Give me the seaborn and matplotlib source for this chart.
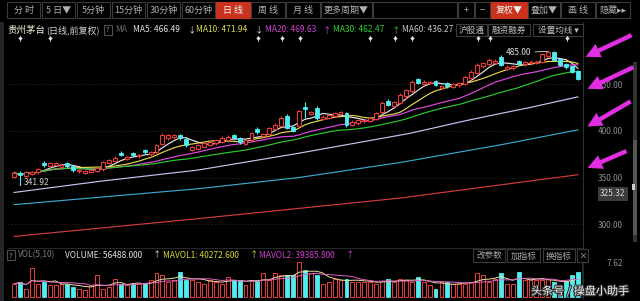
import numpy as np
import pandas as pd
import matplotlib
matplotlib.use('Agg')
import matplotlib.pyplot as plt
import matplotlib.patheffects as pe
from matplotlib.patches import Rectangle, FancyArrowPatch
import seaborn as sns

# ---------------- data ----------------
opens = [351, 355, 352, 354, 355.5, 366, 362, 363.5, 361, 365,
         362, 356.5, 355, 356, 357, 359, 365.5, 368, 376.5, 370,
         376, 372.5, 379.5, 375, 377, 386, 392, 393, 395, 391,
         379.5, 381, 383, 385, 386.5, 388, 390, 395.5, 392, 386,
         390, 402, 394.5, 397, 402, 405, 416, 404, 405, 425.5,
         418, 424.5, 413, 414, 416, 418, 419, 406.5, 408, 410,
         410.5, 413, 420, 432, 427, 430, 437, 442, 455, 450,
         451, 453, 446, 451, 447, 448.5, 450.5, 456, 462, 469,
         471, 472.5, 479, 466.5, 467, 474.5, 471, 472, 472.5, 474,
         480, 484.5, 477, 471, 469, 463.5]
closes = [354.8, 352.6, 355.8, 355.8, 359.1, 363.3, 365.5, 365.5, 363.3, 362.3,
          358.0, 358.0, 356.9, 358.0, 360.1, 366.5, 368.7, 370.8, 374.0, 371.9,
          374.0, 374.0, 377.2, 377.2, 384.7, 396, 395, 395, 392, 384.7,
          382.5, 384.7, 386.9, 387.9, 390.1, 392.2, 393.3, 392, 387.9, 390.1,
          397.6, 398.5, 396.5, 402.9, 406.1, 413.6, 403, 400, 421, 423.5,
          420, 413.6, 414.7, 416.8, 419, 420, 406, 409.3, 411.5, 411.5,
          413.6, 419, 430, 428, 430.5, 438.2, 443.6, 452.1, 451, 452.5,
          452.1, 448.9, 447.5, 447.5, 449.5, 451.1, 457.5, 462.8, 470.3, 472.5,
          475.7, 474.5, 470.5, 468.2, 469, 471.5, 473, 474, 474, 482,
          483.9, 476, 470, 468, 463, 455.5]
highs = [356.5, 357, 357, 357.5, 360.5, 367.5, 367, 367, 365, 366.5,
         363, 359.5, 358.5, 359.5, 361.5, 368, 370, 372.5, 378, 373.5,
         377.5, 375.5, 381, 378.5, 386, 398, 397, 396.5, 396.5, 392.5,
         384, 386, 388.5, 389.5, 391.5, 394, 395, 397, 393, 391.5,
         399, 403.5, 398, 404.5, 408, 415.5, 417.5, 405.5, 422.5, 431,
         421.5, 426, 416.5, 418, 420.5, 421.5, 420.5, 411, 413, 413,
         415, 420.5, 432, 433.5, 432, 440, 445, 454, 456.5, 454,
         453.5, 454.5, 449, 452.5, 451, 452.5, 459, 464.5, 472, 474,
         477.5, 476.5, 480.5, 470, 470.5, 476, 475, 476, 476, 483.5,
         485.0, 484.8, 478, 472.5, 470.5, 465]
lows = [349.5, 341.92, 350.5, 352.5, 354, 361.5, 360.5, 362, 359.5, 360.5,
        356, 355, 353.5, 354.5, 355.5, 357.5, 364, 366.5, 372.5, 368.5,
        372.5, 371, 375.5, 373.5, 375.5, 384.5, 390.5, 391.5, 390.5, 383,
        378, 379.5, 381.5, 383.5, 385, 386.5, 388.5, 390.5, 386, 384.5,
        388.5, 397, 393, 395.5, 400.5, 403.5, 401.5, 398.5, 403.5, 414,
        416.5, 412, 411.5, 412.5, 414.5, 416.5, 404.5, 405, 406.5, 408.5,
        409, 411.5, 418.5, 426.5, 425.5, 428.5, 435.5, 440.5, 449.5, 448.5,
        449.5, 447.5, 444.5, 446, 445.5, 447, 449, 454.5, 460.5, 467.5,
        469.5, 471, 469, 465, 465.5, 470, 469.5, 470.5, 471, 472.5,
        478.5, 475, 469, 466.5, 461.5, 454]
# volume in units of 10,000 lots
volumes = [3.0, 3.4, 1.9, 6.4, 3.0, 3.4, 2.6, 2.6, 3.0, 3.0,
           2.3, 1.9, 1.5, 2.6, 4.9, 1.9, 2.3, 4.1, 3.0, 2.6,
           3.0, 3.0, 3.0, 3.8, 5.3, 4.9, 3.4, 3.8, 5.6, 3.8,
           3.8, 3.4, 3.0, 3.8, 3.4, 3.0, 4.5, 3.8, 3.8, 2.6,
           3.8, 3.8, 5.3, 3.8, 5.3, 4.9, 4.9, 4.9, 7.8, 6.0,
           5.3, 4.9, 3.0, 3.4, 4.1, 3.8, 4.1, 3.4, 3.4, 3.4,
           3.4, 3.0, 3.6, 4.1, 3.4, 4.1, 3.8, 3.4, 4.5, 3.4,
           2.6, 1.9, 3.4, 3.4, 3.0, 3.0, 3.0, 3.4, 5.3, 4.9,
           3.4, 4.1, 5.3, 3.0, 3.0, 5.6, 3.8, 3.8, 3.8, 3.85,
           4.0, 3.4, 2.6, 3.5, 5.0, 5.6488]

ma60_idx = [0, 14.5, 31, 48, 66.5, 77, 87, 95]
ma60_val = [334, 346, 358, 376, 397, 412, 425, 436.27]
ma120_idx = [0, 31, 48, 65, 82, 95]
ma120_val = [321, 338, 350, 366, 385, 401]
ma250_idx = [0, 31, 65, 95]
ma250_val = [287, 306, 328, 353]

price_ticks = [300.00, 350.00, 400.00, 450.00]
cursor_price = '325.32'
vol_tick = 7.62
high_label = 485.00
low_label = 341.92

ma_header = [('MA5: 466.49', '↓'), ('MA10: 471.94', '↓'), ('MA20: 469.63', '↑'),
             ('MA30: 462.47', '↑'), ('MA60: 436.27', '')]
vol_header = [('VOLUME: 56488.000', '↑'), ('MAVOL1: 40272.600', '↑'), ('MAVOL2: 39385.800', '↑')]
toolbar = ['分 时', '5 日▼', '5分钟', '15分钟', '30分钟', '60分钟', '日 线', '周 线', '月 线',
           '更多周期▼', '', '+', '−', '复权▼', '叠加▼', '画 线', '隐藏▸▸']

# ---------------- style ----------------
sns.set_theme(style='dark', rc={'axes.facecolor': 'black', 'figure.facecolor': 'black',
                                'savefig.facecolor': 'black'})
plt.rcParams['font.family'] = ['Noto Sans CJK SC', 'DejaVu Sans']
plt.rcParams['axes.unicode_minus'] = False

UP = '#e83c3c'
DOWN = '#50ecf0'
W, H = 640, 301
fig = plt.figure(figsize=(6.4, 3.01), dpi=100)

def fr(x0, y0, x1, y1):
    return [x0 / W, 1 - y1 / H, (x1 - x0) / W, (y1 - y0) / H]

n = len(closes)
idx = np.arange(n)
o = np.array(opens); c = np.array(closes); h = np.array(highs); l = np.array(lows)
up = c >= o

# ---------------- price panel ----------------
ax = fig.add_axes(fr(8, 22, 583, 250))
ax.set_facecolor('black')
for t in price_ticks:
    ax.axhline(t, color='#4a3434', lw=0.6, ls=(0, (1, 3)), zorder=0)

# moving averages
s = pd.Series(c)
frames = []
for name, win in [('MA5', 5), ('MA10', 10), ('MA20', 20), ('MA30', 30)]:
    frames.append(pd.DataFrame({'idx': idx, 'value': s.rolling(win, min_periods=1).mean(), 'line': name}))
frames.append(pd.DataFrame({'idx': ma60_idx, 'value': ma60_val, 'line': 'MA60'}))
frames.append(pd.DataFrame({'idx': ma120_idx, 'value': ma120_val, 'line': 'MA120'}))
frames.append(pd.DataFrame({'idx': ma250_idx, 'value': ma250_val, 'line': 'MA250'}))
ma_df = pd.concat(frames, ignore_index=True)
palette = {'MA5': '#e8e8e8', 'MA10': '#e6d84a', 'MA20': '#e048e0', 'MA30': '#2ec82e',
           'MA60': '#c4c4f4', 'MA120': '#3aa8cc', 'MA250': '#d23c3c'}
sns.lineplot(data=ma_df, x='idx', y='value', hue='line', palette=palette, legend=False,
             estimator=None, sort=False, linewidth=0.85, ax=ax, zorder=2)

# candles
cw = 0.66
ax.vlines(idx[up], l[up], h[up], color=UP, lw=0.8, zorder=3)
ax.vlines(idx[~up], l[~up], h[~up], color=DOWN, lw=0.8, zorder=3)
body_lo = np.minimum(o, c)
body_h = np.maximum(np.abs(c - o), 0.4)
ax.bar(idx[up], body_h[up], bottom=body_lo[up], width=cw, facecolor='black',
       edgecolor=UP, linewidth=0.8, zorder=4)
ax.bar(idx[~up], body_h[~up], bottom=body_lo[~up], width=cw, facecolor=DOWN,
       edgecolor=DOWN, linewidth=0.6, zorder=4)

# extreme labels
hi_i = int(np.argmax(h)); lo_i = int(np.argmin(l))
ax.annotate(f'{high_label:.2f}', xy=(hi_i, high_label), xytext=(-12, -1), textcoords='offset points',
            ha='right', va='center', color='#e0e0e0', fontsize=6,
            arrowprops=dict(arrowstyle='-', color='#e0e0e0', lw=0.6, shrinkA=0, shrinkB=0))
ax.annotate(f'{low_label:.2f}', xy=(lo_i, low_label), xytext=(3, 2), textcoords='offset points',
            ha='left', va='center', color='#d0d0d0', fontsize=6,
            arrowprops=dict(arrowstyle='-', color='#d0d0d0', lw=0.6, shrinkA=0, shrinkB=0))

ax.set_xlim(-1.01, 95.84)
ax.set_ylim(272.5, 516.3)
ax.set_xticks([])
ax.yaxis.tick_right()
ax.set_yticks(price_ticks)
ax.set_yticklabels([f'{v:.2f}' for v in price_ticks])
ax.tick_params(axis='y', colors='#8c8c8c', labelsize=6, length=0, pad=11)
ax.set_xlabel(''); ax.set_ylabel('')
for sp in ax.spines.values():
    sp.set_visible(False)
ax.spines['right'].set_visible(True)
ax.spines['right'].set_color('#2e2e2e')
ax.spines['right'].set_linewidth(0.8)

# ---------------- volume panel ----------------
vax = fig.add_axes(fr(8, 258, 583, 298))
vax.set_facecolor('black')
v = np.array(volumes)
vax.bar(idx[up], v[up], width=cw, facecolor='black', edgecolor=UP, linewidth=0.7)
vax.bar(idx[~up], v[~up], width=cw, facecolor=DOWN, edgecolor=DOWN, linewidth=0.6)
vs = pd.Series(v)
vol_df = pd.concat([pd.DataFrame({'idx': idx, 'value': vs.rolling(5, min_periods=1).mean(), 'line': 'MAVOL1'}),
                    pd.DataFrame({'idx': idx, 'value': vs.rolling(10, min_periods=1).mean(), 'line': 'MAVOL2'})],
                   ignore_index=True)
sns.lineplot(data=vol_df, x='idx', y='value', hue='line', palette={'MAVOL1': '#e8e0a0', 'MAVOL2': '#e060c0'},
             legend=False, estimator=None, sort=False, linewidth=0.7, ax=vax)
vax.set_xlim(-1.01, 95.84)
vax.set_ylim(-0.22, 8.74)
vax.set_xticks([])
vax.yaxis.tick_right()
vax.set_yticks([vol_tick])
vax.set_yticklabels([f'{vol_tick:.2f}'])
vax.tick_params(axis='y', colors='#8c8c8c', labelsize=6, length=0, pad=17)
vax.set_xlabel(''); vax.set_ylabel('')
for sp in vax.spines.values():
    sp.set_visible(False)
vax.spines['right'].set_visible(True)
vax.spines['right'].set_color('#2e2e2e')

# ---------------- overlay (UI chrome) ----------------
ov = fig.add_axes([0, 0, 1, 1], zorder=10)
ov.set_xlim(0, W); ov.set_ylim(H, 0); ov.axis('off')

def box(x0, x1, y0, y1, label, fc='black', tc='#b4b4b4', fs=6.5, ec='#3c3c3c'):
    ov.add_patch(Rectangle((x0, y0), x1 - x0, y1 - y0, facecolor=fc, edgecolor=ec, lw=0.8))
    if label:
        ov.text((x0 + x1) / 2, (y0 + y1) / 2 + 0.5, label, color=tc, fontsize=fs, ha='center', va='center')

tb_x = [(7, 40), (42, 75), (77, 110), (112, 145), (147, 180), (182, 215), (216, 250), (251, 285),
        (286, 320), (321, 372), (373, 457), (458, 474), (475, 490), (491, 527), (528, 560),
        (561, 595), (596, 630)]
for (x0, x1), lab in zip(tb_x, toolbar):
    red = lab in ('日 线', '复权▼')
    box(x0, x1, 2, 18, lab, fc='#c8321e' if red else 'black', tc='#f4f4f4' if red else '#b0b0b0',
        ec='#c8321e' if red else '#3a3a3a')

# header row
hy = 30
ov.text(7, hy, '贵州茅台', color='#eeeecc', fontsize=6.8, va='center')
ov.text(46, hy, '(日线,前复权)', color='#d4d4d4', fontsize=6.5, va='center')
box(104, 112, 25, 35, '?', tc='#909090', fs=5.5, ec='#505050')
ov.text(115, hy, 'MA', color='#6c6c6c', fontsize=6, va='center')
hx = [(133, 188), (196, 255), (265, 323), (333, 392), (402, None)]
hcol = ['#e4e4e4', '#e0d850', '#d040d0', '#2ed02e', '#c8c8c8']
acol = ['#e4e4e4', '#e4e4e4', '#d040d0', '#2ed02e', '#c8c8c8']
for (tx, axx), (lab, arr), tc, ac in zip(hx, ma_header, hcol, acol):
    ov.text(tx, hy, lab, color=tc, fontsize=6, va='center')
    if arr:
        ov.text(axx, hy, arr, color=ac, fontsize=6, va='center')
box(456, 487, 24, 36, '沪股通', tc='#c0c0c0', fs=6.2)
box(488, 530, 24, 36, '融资融券', tc='#c0c0c0', fs=6.2)
box(533, 583, 24, 36, '设置均线 ▾', tc='#c0c0c0', fs=6.2)

# event markers under header
for mx in [20, 50, 258, 282, 300, 370, 395, 412, 478, 490, 567]:
    ov.plot([mx, mx], [35.5, 40.5], color='#d8d8d8', lw=0.6)
    ov.plot(mx, 38, marker='D', ms=2.2, color='#e8e8e8', mec='none')

# volume header
vy = 255
box(7, 15, 250, 260, '?', tc='#909090', fs=5.5, ec='#505050')
ov.text(18, vy, 'VOL(5,10)', color='#808080', fontsize=6, va='center')
vxs = [(65, 153), (163, 250), (259, 346)]
vcol = ['#e4e4e4', '#d8d840', '#d040d0']
for (tx, axx), (lab, arr), tc in zip(vxs, vol_header, vcol):
    ov.text(tx, vy, lab, color=tc, fontsize=6, va='center')
    ov.text(axx, vy, arr, color=tc, fontsize=6, va='center')
box(473, 505, 249, 262, '改参数', tc='#a8a8a8', fs=6.2)
box(507, 540, 249, 262, '加指标', tc='#a8a8a8', fs=6.2)
box(543, 575, 249, 262, '换指标', tc='#a8a8a8', fs=6.2)
box(577, 588, 249, 262, '×', tc='#a8a8a8', fs=6.5)

# separator between panels
ov.plot([8, 583], [247.5, 247.5], color='#262626', lw=0.8)
# left strip and scrollbar
ov.add_patch(Rectangle((0, 22), 4, 279, facecolor='#262626', edgecolor='none'))
ov.add_patch(Rectangle((633, 62), 4, 180, facecolor='#333333', edgecolor='none'))
ov.add_patch(Rectangle((633, 140), 4, 95, facecolor='#555555', edgecolor='none'))
ov.add_patch(Rectangle((632, 184), 3, 6, facecolor='#cccccc', edgecolor='none'))

# cursor price box
ov.text(613, 194, cursor_price, color='#d4d4d4', fontsize=6, ha='center', va='center',
        bbox=dict(boxstyle='square,pad=0.25', facecolor='#3c3c3c', edgecolor='none'))

# magenta arrows
for (x0, y0), (x1, y1) in [((634, 34), (583, 58)), ((636, 66), (585, 90)),
                           ((633, 100), (585, 128)), ((629, 150), (585, 169))]:
    ov.add_patch(FancyArrowPatch((x0, y0), (x1, y1),
                                 arrowstyle='simple,head_length=1.5,head_width=1.5,tail_width=0.45',
                                 mutation_scale=7, color='#e22ee2', lw=0))

# watermark
ov.text(531, 291, '头条号 / 操盘小助手', color='#f4f4f4', fontsize=8, va='center',
        path_effects=[pe.withStroke(linewidth=1.6, foreground='#303030')])

fig.savefig('out.png', dpi=100, facecolor='black')
